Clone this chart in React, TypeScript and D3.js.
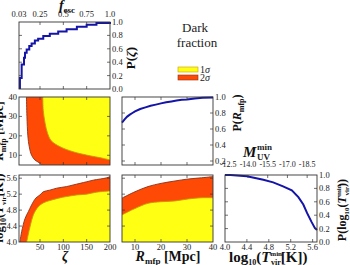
import React, { useEffect, useRef } from 'react';
import * as d3 from 'd3';

// marginal of zeta (P(zeta))
const zetaCdfX = [7, 7, 10.7, 15.7, 17.9, 21.4, 27, 32, 39, 46, 57, 71, 89, 107, 129, 150, 171, 200];
const zetaCdfP = [0, 0.165, 0.365, 0.465, 0.54, 0.59, 0.64, 0.68, 0.725, 0.75, 0.79, 0.825, 0.86, 0.89, 0.93, 0.96, 0.985, 1.0];

// marginal of R_mfp
const rmfpCdfX = [5, 6, 7, 8, 9, 10, 12, 14, 16, 18, 20, 22, 24, 26, 28, 30, 33, 36, 40];
const rmfpCdfP = [0.68, 0.72, 0.755, 0.78, 0.8, 0.82, 0.85, 0.87, 0.89, 0.905, 0.92, 0.935, 0.945, 0.955, 0.965, 0.97, 0.98, 0.99, 0.995];

// marginal of log10(Tvir)
const tvirCdfX = [4.0, 4.1, 4.4, 4.7, 4.88, 5.06, 5.22, 5.34, 5.43, 5.5, 5.58, 5.64, 5.68];
const tvirCdfP = [1.0, 1.0, 0.98, 0.93, 0.89, 0.83, 0.77, 0.67, 0.56, 0.43, 0.3, 0.21, 0.18];

// zeta vs R_mfp contours (zeta, R)
const zr2sZeta = [21, 22, 24, 27, 32, 39, 46, 54];
const zr2sR = [40, 30, 20, 14.4, 10, 7.6, 6.5, 5];
const zr1sZeta = [56, 57, 61, 66, 74, 93, 121, 150, 186, 200];
const zr1sR = [40, 33, 26.5, 21.5, 17.5, 14.4, 11.8, 10.1, 8.4, 7.6];

// zeta vs log10(Tvir) contours (zeta, T)
const zt2sZeta = [7, 10.7, 18, 25, 32, 41, 50, 57, 71, 86, 107, 121, 150, 164, 193, 200];
const zt2sT = [4.0, 4.26, 4.59, 4.76, 4.93, 5.1, 5.18, 5.26, 5.3, 5.35, 5.39, 5.43, 5.51, 5.55, 5.61, 5.64];
const zt1sZeta = [21.5, 25, 28.6, 35.7, 46, 57, 71, 90, 107, 129, 150, 171, 200];
const zt1sT = [4.0, 4.2, 4.38, 4.68, 4.88, 4.98, 5.04, 5.1, 5.14, 5.18, 5.2, 5.25, 5.28];

// R_mfp vs log10(Tvir) contours (R, T)
const rt2sR = [5, 10, 15, 20, 25.4, 30.5, 35.6, 40];
const rt2sT = [5.1, 5.26, 5.39, 5.47, 5.53, 5.58, 5.61, 5.64];
const rt1sR = [5, 7.4, 10, 15, 20, 25.4, 30.5, 35.6, 40];
const rt1sT = [4.68, 4.76, 4.84, 4.97, 5.01, 5.03, 5.08, 5.11, 5.11];

const zetaTicks = [50, 100, 150];
const zetaLabels = [50, 100, 150, 200];
const fescTickPos = [5, 50, 100, 150, 200];
const fescLabels = ['0.03', '0.25', '0.5', '0.75', '1.0'];
const rmfpTicks = [10, 20, 30];
const rmfpLabels = [10, 20, 30, 40];
const tvirTicks = [4.4, 4.8, 5.2, 5.6];
const tvirLabels = [4.0, 4.4, 4.8, 5.2, 5.6];
const muvTickPos = [4.06, 4.42, 4.78, 5.14, 5.5];
const muvLabels = ['-12.5', '-14.0', '-15.5', '-17.0', '-18.5'];
const probTicks = [0.2, 0.4, 0.6, 0.8];
const probLabels = [0, 0.2, 0.4, 0.6, 0.8, 1.0];
const rmfpProbLabels = [0.2, 0.4, 0.6, 0.8, 1.0];

const FONT = '"Liberation Serif", "DejaVu Serif", serif';
const ORANGE = '#ff4a05';
const YELLOW = '#ffff14';
const BLUE = '#1414a8';

export default function App() {
  const ref = useRef<SVGSVGElement>(null);

  useEffect(() => {
    const svg = d3.select(ref.current);
    svg.selectAll('*').remove();

    const zetaX = d3.scaleLinear().domain([5, 200]).range([19, 110]);
    const rmfpX = d3.scaleLinear().domain([5, 40]).range([122, 213]);
    const tvirX = d3.scaleLinear().domain([4.0, 5.68]).range([225, 317]);
    const pA = d3.scaleLinear().domain([0, 1]).range([89, 22]);
    const rmfpY = d3.scaleLinear().domain([5, 40]).range([165, 97]);
    const pC = d3.scaleLinear().domain([0.15, 1]).range([165, 97]);
    const tvirY = d3.scaleLinear().domain([4.0, 5.68]).range([242, 175]);
    const pF = d3.scaleLinear().domain([0, 1]).range([242, 175]);

    const txt = (x: number, y: number, s: string, anchor = 'middle', size = 9) =>
      svg.append('text').attr('x', x).attr('y', y).attr('text-anchor', anchor)
        .style('font-family', FONT).style('font-size', size + 'px').style('fill', '#222').text(s);

    let clipId = 0;
    const region = (sx: any, sy: any, xs: number[], ys: number[], corners: number[][], fill: string, stroke: string) => {
      const id = 'clip' + clipId++;
      const [x0, x1] = sx.range();
      const [y1, y0] = sy.range();
      svg.append('clipPath').attr('id', id).append('rect')
        .attr('x', x0).attr('y', y0).attr('width', x1 - x0).attr('height', y1 - y0);
      const pts = xs.map((v, i) => [sx(v), sy(ys[i])] as [number, number]);
      const edge = d3.line().curve(d3.curveCatmullRom)(pts) as string;
      const tail = corners.map(([a, b]) => `L${sx(a)},${sy(b)}`).join('');
      svg.append('path').attr('d', edge + tail + 'Z').attr('fill', fill).attr('clip-path', `url(#${id})`);
      svg.append('path').attr('d', edge).attr('fill', 'none').attr('stroke', stroke)
        .attr('stroke-width', 0.9).attr('clip-path', `url(#${id})`);
    };

    const box = (sx: any, sy: any, xt: number[], yt: number[], topTicks?: number[]) => {
      const [x0, x1] = sx.range();
      const [y1, y0] = sy.range();
      const g = svg.append('g').attr('stroke', '#333').attr('stroke-width', 0.7);
      xt.forEach((v) => {
        g.append('line').attr('x1', sx(v)).attr('x2', sx(v)).attr('y1', y1).attr('y2', y1 - 3);
      });
      (topTicks || xt).forEach((v) => {
        g.append('line').attr('x1', sx(v)).attr('x2', sx(v)).attr('y1', y0).attr('y2', y0 + 3);
      });
      yt.forEach((v) => {
        g.append('line').attr('y1', sy(v)).attr('y2', sy(v)).attr('x1', x0).attr('x2', x0 + 3);
        g.append('line').attr('y1', sy(v)).attr('y2', sy(v)).attr('x1', x1).attr('x2', x1 - 3);
      });
      g.append('rect').attr('x', x0).attr('y', y0).attr('width', x1 - x0).attr('height', y1 - y0)
        .attr('fill', 'none').attr('stroke-width', 0.9);
    };

    const curve = (sx: any, sy: any, xs: number[], ys: number[], step: boolean) => {
      const line = d3.line<number>().x((d, i) => sx(xs[i])).y((d) => sy(d))
        .curve(step ? d3.curveStepAfter : d3.curveLinear);
      svg.append('path').attr('d', line(ys) as string).attr('fill', 'none')
        .attr('stroke', BLUE).attr('stroke-width', 2);
    };

    // top-left: P(zeta)
    curve(zetaX, pA, zetaCdfX, zetaCdfP, true);
    box(zetaX, pA, zetaTicks, probTicks);
    fescTickPos.forEach((v, i) => txt(zetaX(v), 17, fescLabels[i], 'middle', 8.5));
    probLabels.forEach((v) => txt(112, pA(v) + 3, v.toFixed(1), 'start', 8.5));

    // middle-left: zeta vs R_mfp
    region(zetaX, rmfpY, zr2sZeta, zr2sR, [[200, 5], [200, 40]], ORANGE, '#8a3018');
    region(zetaX, rmfpY, zr1sZeta, zr1sR, [[200, 40]], YELLOW, '#c89a00');
    box(zetaX, rmfpY, zetaTicks, rmfpTicks);
    rmfpLabels.forEach((v) => txt(17, rmfpY(v) + 3, String(v), 'end', 8.5));

    // middle: P(R_mfp)
    curve(rmfpX, pC, rmfpCdfX, rmfpCdfP, false);
    box(rmfpX, pC, rmfpTicks, probTicks);
    rmfpProbLabels.forEach((v) => txt(215, pC(v) + 3, v.toFixed(1), 'start', 8.5));

    // bottom-left: zeta vs Tvir
    region(zetaX, tvirY, zt2sZeta, zt2sT, [[200, 4.0]], ORANGE, '#8a3018');
    region(zetaX, tvirY, zt1sZeta, zt1sT, [[200, 4.0]], YELLOW, '#c89a00');
    box(zetaX, tvirY, zetaTicks, tvirTicks);
    tvirLabels.forEach((v) => txt(17, tvirY(v) + 3, v.toFixed(1), 'end', 8.5));
    zetaLabels.forEach((v) => txt(zetaX(v), 250, String(v), 'middle', 8.5));

    // bottom-middle: R_mfp vs Tvir
    region(rmfpX, tvirY, rt2sR, rt2sT, [[40, 4.0], [5, 4.0]], ORANGE, '#8a3018');
    region(rmfpX, tvirY, rt1sR, rt1sT, [[40, 4.0], [5, 4.0]], YELLOW, '#c89a00');
    box(rmfpX, tvirY, rmfpTicks, tvirTicks);
    rmfpLabels.forEach((v) => txt(rmfpX(v), 250, String(v), 'middle', 8.5));

    // bottom-right: P(Tvir)
    curve(tvirX, pF, tvirCdfX, tvirCdfP, false);
    box(tvirX, pF, tvirTicks, probTicks, muvTickPos.slice(1));
    tvirLabels.forEach((v) => txt(tvirX(v), 250, v.toFixed(1), 'middle', 8.5));
    muvTickPos.forEach((v, i) => txt(tvirX(v), 167, muvLabels[i], 'middle', 8));
    probLabels.forEach((v) => txt(319, pF(v) + 3, v.toFixed(1), 'start', 8.5));

    // math labels
    const mtext = (x: number, y: number, anchor: string, rot = false) => {
      const t = svg.append('text').attr('text-anchor', anchor)
        .style('font-family', FONT).style('font-weight', 'bold').style('fill', '#111');
      if (rot) t.attr('transform', `translate(${x},${y}) rotate(-90)`);
      else t.attr('x', x).attr('y', y);
      return t;
    };
    const span = (t: any, s: string, size: number, opts: { it?: boolean; dy?: number; dx?: number } = {}) => {
      const sp = t.append('tspan').text(s).style('font-size', size + 'px');
      if (opts.it) sp.style('font-style', 'italic');
      if (opts.dy) sp.attr('dy', opts.dy);
      if (opts.dx) sp.attr('dx', opts.dx);
      return sp;
    };

    let t = mtext(67, 10, 'middle');
    span(t, 'f', 14, { it: true });
    span(t, 'esc', 9, { dy: 3 });

    t = mtext(65, 261, 'middle');
    span(t, 'ζ', 14, { it: true });

    t = mtext(168, 261, 'middle');
    span(t, 'R', 14, { it: true });
    span(t, 'mfp', 9, { dy: 3 });
    span(t, ' [Mpc]', 14, { dy: -3 });

    t = mtext(229, 262, 'start');
    span(t, 'log', 15);
    span(t, '10', 8, { dy: 3 });
    span(t, '(', 15, { dy: -3 });
    span(t, 'T', 15, { it: true });
    span(t, 'min', 7, { dy: -6 });
    span(t, 'vir', 8, { dx: -11, dy: 9 });
    span(t, '[K])', 15, { dy: -3 });

    // M_UV^min
    t = mtext(243, 157, 'start');
    span(t, 'M', 15, { it: true });
    txt(257, 150, 'min', 'start', 9).style('font-weight', 'bold');
    txt(257, 160, 'UV', 'start', 9).style('font-weight', 'bold');

    // right rotated labels
    t = mtext(135, 58, 'middle', true);
    span(t, 'P(', 13);
    span(t, 'ζ', 13, { it: true });
    span(t, ')', 13);

    t = mtext(241, 113, 'middle', true);
    span(t, 'P(', 12);
    span(t, 'R', 12, { it: true });
    span(t, 'mfp', 8, { dy: 3 });
    span(t, ')', 12, { dy: -3 });

    t = mtext(346, 210, 'middle', true);
    span(t, 'P(log', 12);
    span(t, '10', 7, { dy: 3 });
    span(t, '(', 12, { dy: -3 });
    span(t, 'T', 12, { it: true });
    span(t, 'min', 7, { dy: -5 });
    span(t, 'vir', 7, { dx: -11, dy: 8 });
    span(t, '))', 12, { dy: -3 });

    // left rotated labels (mostly off-canvas)
    t = mtext(3, 131, 'middle', true);
    span(t, 'R', 13, { it: true });
    span(t, 'mfp', 8, { dy: 3 });
    span(t, ' [Mpc]', 13, { dy: -3 });

    t = mtext(3, 208, 'middle', true);
    span(t, 'log', 13);
    span(t, '10', 8, { dy: 3 });
    span(t, '(', 13, { dy: -3 });
    span(t, 'T', 13, { it: true });
    span(t, 'min', 7, { dy: -5 });
    span(t, 'vir', 7, { dx: -11, dy: 8 });
    span(t, '[K])', 13, { dy: -3 });

    // legend
    txt(195, 32, 'Dark', 'middle', 13);
    txt(197, 47, 'fraction', 'middle', 13);
    svg.append('rect').attr('x', 178).attr('y', 67).attr('width', 20).attr('height', 5)
      .attr('fill', YELLOW).attr('stroke', '#c89a00').attr('stroke-width', 0.6);
    svg.append('rect').attr('x', 178).attr('y', 75).attr('width', 20).attr('height', 5)
      .attr('fill', ORANGE).attr('stroke', '#8a3018').attr('stroke-width', 0.6);
    const l1 = txt(200, 73, '1', 'start', 10);
    l1.append('tspan').text('σ').style('font-style', 'italic');
    const l2 = txt(200, 81, '2', 'start', 10);
    l2.append('tspan').text('σ').style('font-style', 'italic');
  }, []);

  return (
    <svg ref={ref} width={350} height={265}
      style={{ position: 'absolute', left: 0, top: 0, background: '#fff' }} />
  );
}
